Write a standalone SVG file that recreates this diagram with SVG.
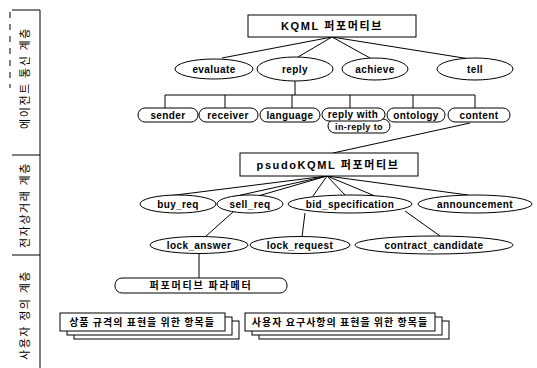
<svg xmlns="http://www.w3.org/2000/svg" width="537" height="368" viewBox="0 0 537 368">
<style>
.ln{stroke:#000;stroke-width:1;fill:none}
.sh{stroke:#000;stroke-width:1;fill:#fff}
.t{font-family:"Liberation Sans",Arial,sans-serif;font-size:10px;font-weight:bold;text-anchor:middle;fill:#000;letter-spacing:0.4px}
.k{font-family:"Liberation Sans","Noto Sans CJK KR",sans-serif;font-size:11px;font-weight:bold;text-anchor:middle;fill:#000;letter-spacing:1.6px}
.kr{font-family:"Noto Sans CJK KR",sans-serif;font-size:10px;font-weight:bold;text-anchor:middle;fill:#000;letter-spacing:1px}
.side{font-family:"Noto Sans CJK KR",sans-serif;font-size:11px;text-anchor:middle;fill:#000;letter-spacing:1.6px}
</style>
<rect width="537" height="368" fill="#fff"/>
<g id="layers">
<line class="ln" x1="40" y1="10" x2="40" y2="368"/>
<line class="ln" x1="12" y1="10" x2="40" y2="10"/>
<line class="ln" x1="10" y1="12" x2="10" y2="88" stroke-dasharray="6,6"/>
<line class="ln" x1="12" y1="155" x2="40" y2="155"/>
<line class="ln" x1="12" y1="255" x2="40" y2="255"/>
<text class="side" transform="translate(29,78) rotate(-90)">에이전트 통신 계층</text>
<text class="side" transform="translate(29,205) rotate(-90)">전자상거래 계층</text>
<text class="side" transform="translate(29,315) rotate(-90)">사용자 정의 계층</text>
</g>
<g id="connectors">
<line class="ln" x1="332" y1="37" x2="222" y2="58"/>
<line class="ln" x1="332" y1="37" x2="298" y2="57"/>
<line class="ln" x1="332" y1="37" x2="370" y2="58"/>
<line class="ln" x1="332" y1="37" x2="470" y2="59"/>
<line class="ln" x1="295" y1="81" x2="295" y2="95"/>
<polyline class="ln" points="165,108 165,95 475,95 475,108"/>
<line class="ln" x1="225" y1="95" x2="225" y2="108"/>
<line class="ln" x1="292" y1="95" x2="292" y2="108"/>
<line class="ln" x1="350" y1="95" x2="350" y2="108"/>
<line class="ln" x1="413" y1="95" x2="413" y2="108"/>
<line class="ln" x1="470" y1="123" x2="333" y2="153"/>
<line class="ln" x1="327" y1="176" x2="160" y2="197"/>
<line class="ln" x1="327" y1="176" x2="232" y2="197"/>
<line class="ln" x1="327" y1="176" x2="258" y2="196"/>
<line class="ln" x1="327" y1="176" x2="313" y2="196"/>
<line class="ln" x1="327" y1="176" x2="345" y2="195"/>
<line class="ln" x1="327" y1="176" x2="375" y2="196"/>
<line class="ln" x1="327" y1="176" x2="468" y2="195"/>
<line class="ln" x1="233" y1="212" x2="205" y2="237"/>
<line class="ln" x1="305" y1="213" x2="302" y2="237"/>
<line class="ln" x1="405" y1="211" x2="440" y2="236"/>
<line class="ln" x1="199" y1="253" x2="199" y2="278"/>
</g>
<g id="kqml">
<rect class="sh" x="248" y="15" width="168" height="22"/>
<text class="k" x="332" y="30">KQML 퍼포머티브</text>
</g>
<g id="evaluate"><ellipse class="sh" cx="214" cy="69" rx="39" ry="10"/><text class="t" x="214" y="73">evaluate</text></g>
<g id="reply"><ellipse class="sh" cx="295" cy="69" rx="38" ry="12"/><text class="t" x="295" y="73">reply</text></g>
<g id="achieve"><ellipse class="sh" cx="375" cy="69" rx="33" ry="11"/><text class="t" x="375" y="73">achieve</text></g>
<g id="tell"><ellipse class="sh" cx="475" cy="69" rx="38" ry="11"/><text class="t" x="475" y="73">tell</text></g>
<g id="sender"><rect class="sh" x="138" y="108" width="60" height="14" rx="7"/><text class="t" x="168" y="119">sender</text></g>
<g id="receiver"><rect class="sh" x="199" y="108" width="59" height="14" rx="7"/><text class="t" x="228" y="119">receiver</text></g>
<g id="language"><rect class="sh" x="260" y="108" width="60" height="14" rx="7"/><text class="t" x="290" y="119">language</text></g>
<g id="in-reply-to"><rect class="sh" x="328" y="119" width="62" height="14" rx="7"/><text class="t" x="359" y="130" style="font-size:9px">in-reply to</text></g>
<g id="reply-with"><rect class="sh" x="322" y="108" width="63" height="13" rx="7"/><text class="t" x="353" y="118">reply with</text></g>
<g id="ontology"><rect class="sh" x="387" y="108" width="58" height="14" rx="7"/><text class="t" x="416" y="119">ontology</text></g>
<g id="content"><rect class="sh" x="448" y="108" width="62" height="14" rx="7"/><text class="t" x="479" y="119">content</text></g>
<g id="psudokqml">
<rect class="sh" x="240" y="153" width="178" height="23"/>
<text class="k" x="328" y="169">psudoKQML 퍼포머티브</text>
</g>
<g id="buy_req"><ellipse class="sh" cx="178" cy="204" rx="38" ry="9"/><text class="t" x="178" y="208">buy_req</text></g>
<g id="sell_req"><ellipse class="sh" cx="250" cy="204" rx="33" ry="9"/><text class="t" x="250" y="208">sell_req</text></g>
<g id="bid_specification"><ellipse class="sh" cx="350" cy="204" rx="62" ry="9"/><text class="t" x="350" y="208">bid_specification</text></g>
<g id="announcement"><ellipse class="sh" cx="475" cy="204" rx="57" ry="9"/><text class="t" x="475" y="208">announcement</text></g>
<g id="lock_answer"><ellipse class="sh" cx="199" cy="245" rx="49" ry="8.5"/><text class="t" x="199" y="249">lock_answer</text></g>
<g id="lock_request"><ellipse class="sh" cx="300" cy="245" rx="50" ry="8.5"/><text class="t" x="300" y="249">lock_request</text></g>
<g id="contract_candidate"><ellipse class="sh" cx="434" cy="245" rx="79" ry="9"/><text class="t" x="434" y="249">contract_candidate</text></g>
<g id="parameter"><rect class="sh" x="115" y="278" width="172" height="15" rx="7"/><text class="kr" x="201" y="289" style="letter-spacing:1.8px">퍼포머티브 파라메터</text></g>
<g id="product-items">
<rect class="sh" x="74" y="321" width="165" height="18"/>
<rect class="sh" x="67" y="317" width="165" height="18"/>
<rect class="sh" x="60" y="313" width="165" height="18"/>
<text class="kr" x="142" y="326">상품 규격의 표현을 위한 항목들</text>
</g>
<g id="user-items">
<rect class="sh" x="259" y="321" width="190" height="18"/>
<rect class="sh" x="252" y="317" width="190" height="18"/>
<rect class="sh" x="245" y="313" width="190" height="18"/>
<text class="kr" x="340" y="326">사용자 요구사항의 표현을 위한 항목들</text>
</g>
</svg>
